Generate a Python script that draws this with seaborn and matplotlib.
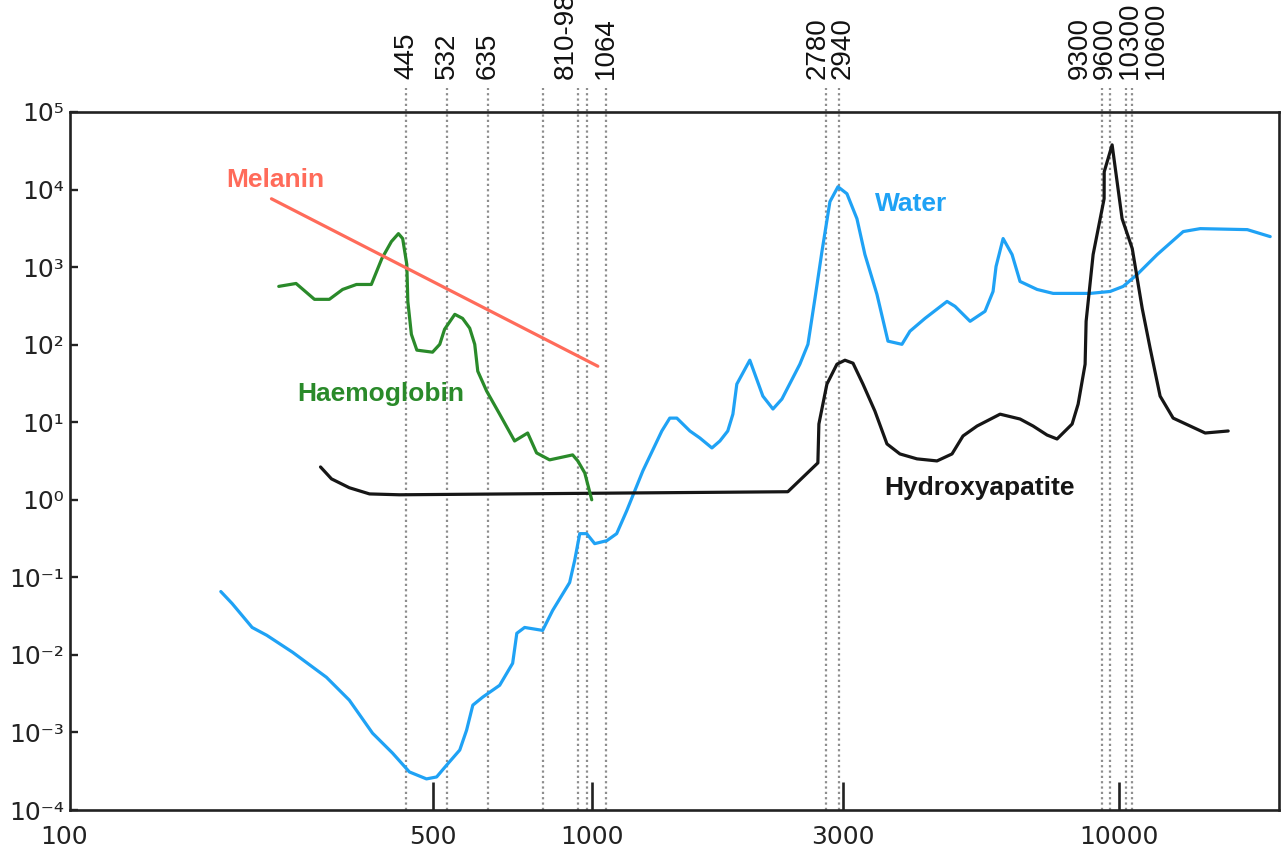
import matplotlib
matplotlib.use("Agg")
import matplotlib.pyplot as plt
import seaborn as sns
import numpy as np
import pandas as pd
from matplotlib.ticker import NullLocator

# absorption spectra (wavelength in nm, relative absorption)
water_nm = [198, 208, 227, 242, 271, 314, 347, 384, 419, 451, 486, 508, 531, 562, 579, 595,
            621, 669, 708, 721, 746, 807, 843, 908, 928, 949, 978, 1013, 1068, 1115, 1165,
            1250, 1358, 1406, 1450, 1535, 1603, 1690, 1750, 1811, 1852, 1884, 1994, 2111,
            2206, 2294, 2481, 2570, 2650, 2732, 2829, 2930, 3047, 3183, 3296, 3474, 3645,
            3874, 4012, 4284, 4717, 4885, 5217, 5568, 5767, 5843, 6026, 6266, 6488, 6990,
            7497, 8810, 9616, 10180, 10820, 11810, 13230, 14250, 17500, 19340]
water_abs = [0.0656, 0.046, 0.0226, 0.0179, 0.0108, 0.00515, 0.00261, 0.00098, 0.000543,
             0.00031, 0.000252, 0.000267, 0.000381, 0.000594, 0.00107, 0.00225, 0.00285,
             0.00406, 0.0078, 0.019, 0.0226, 0.0207, 0.0374, 0.0857, 0.164, 0.366, 0.366,
             0.272, 0.297, 0.366, 0.722, 2.36, 7.71, 11.3, 11.3, 7.71, 6.27, 4.66, 5.73,
             7.71, 12.7, 31.0, 63.1, 21.7, 14.8, 19.9, 56.0, 101, 394, 1585, 6970, 10860,
             8830, 4210, 1452, 445, 111, 101, 149, 218, 361, 312, 200, 269, 485, 1019, 2333,
             1452, 653, 515, 458, 458, 485, 564, 804, 1452, 2871, 3133, 3041, 2472]

haemo_nm = [255, 275, 298, 318, 337, 358, 382, 400, 417, 430, 438, 446, 448, 455, 466, 499,
            515, 526, 550, 569, 587, 600, 608, 632, 669, 714, 756, 786, 832, 920, 941, 970, 1000]
haemo_abs = [564, 615, 384, 384, 515, 597, 597, 1290, 2135, 2700, 2333, 1080, 361, 136, 85,
             80, 101, 158, 246, 218, 163, 101, 45.5, 25.2, 12.7, 5.73, 7.26, 4.02, 3.27,
             3.79, 3.17, 2.22, 1.0]

hydroxy_nm = [306, 321, 347, 379, 432, 2354, 2684, 2696, 2792, 2917, 3021, 3129, 3268, 3443,
              3629, 3840, 4137, 4515, 4821, 5058, 5378, 5947, 6488, 6869, 7300, 7626, 8145,
              8361, 8620, 8658, 8927, 9366, 9370, 9699, 10130, 10590, 11060, 11450, 11960,
              12660, 14560, 16100]
hydroxy_abs = [2.65, 1.86, 1.43, 1.19, 1.16, 1.27, 2.99, 9.5, 31, 56, 63, 57.7, 31, 13.9,
               5.25, 3.9, 3.37, 3.17, 3.9, 6.65, 8.93, 12.7, 11.0, 8.93, 6.84, 6.08, 9.48,
               17.1, 56, 200, 1452, 7620, 16940, 37670, 4217, 1734, 294, 89.9, 21.7, 11.3,
               7.26, 7.71]

melanin_nm = [247, 1027]
melanin_abs = [7600, 52.7]

# laser wavelengths marked with dotted lines
laser_lines = [445, 532, 635, 810, 940, 980, 1064, 2780, 2940, 9300, 9600, 10300, 10600]
laser_labels = ["445", "532", "635", "810-980", "1064", "2780", "2940",
                "9300", "9600", "10300", "10600"]
laser_label_x = [445, 532, 635, np.sqrt(810 * 980), 1064, 2780, 2940, 9300, 9600, 10300, 10600]
label_shift = [0, 0, 0, 0, 0, -6, 3, -16.5, -3.5, 3, 16.5]  # points, to spread crowded labels

x_ticks = [500, 1000, 3000, 10000]
y_exponents = [-4, -3, -2, -1, 0, 1, 2, 3, 4, 5]
sup = str.maketrans("-0123456789", "⁻⁰¹²³⁴⁵⁶⁷⁸⁹")

colors = {"Water": "#1fa2f5", "Melanin": "#ff6b5a", "Haemoglobin": "#2a8a2a",
          "Hydroxyapatite": "#161616"}

df = pd.concat([
    pd.DataFrame({"nm": water_nm, "abs": water_abs, "chromophore": "Water"}),
    pd.DataFrame({"nm": hydroxy_nm, "abs": hydroxy_abs, "chromophore": "Hydroxyapatite"}),
    pd.DataFrame({"nm": haemo_nm, "abs": haemo_abs, "chromophore": "Haemoglobin"}),
    pd.DataFrame({"nm": melanin_nm, "abs": melanin_abs, "chromophore": "Melanin"}),
], ignore_index=True)

sns.set_style("white")
plt.rcParams["font.family"] = ["DejaVu Sans"]

fig = plt.figure(figsize=(12.87, 8.58), dpi=100)
ax = fig.add_axes([0.0544, 0.0559, 0.9394, 0.8136])
ax.set_xscale("log")
ax.set_yscale("log")

for x in laser_lines:
    ax.axvline(x, ymin=0, ymax=1.034, color="#8e8e8e", lw=1.6,
               linestyle=(0, (1, 1.4)), clip_on=False, zorder=1)

sns.lineplot(data=df, x="nm", y="abs", hue="chromophore", palette=colors,
             estimator=None, sort=False, legend=False, lw=2.3, ax=ax, zorder=3)

ax.set_xlim(102.5, 20100)
ax.set_ylim(1e-4, 1e5)
ax.set_xlabel("")
ax.set_ylabel("")

ax.set_xticks(x_ticks)
ax.set_xticklabels([str(t) for t in x_ticks])
ax.xaxis.set_minor_locator(NullLocator())
ax.set_yticks([10.0 ** k for k in y_exponents])
ax.set_yticklabels(["10" + str(k).translate(sup) for k in y_exponents])
ax.yaxis.set_minor_locator(NullLocator())

ax.tick_params(axis="x", bottom=True, direction="in", length=20, width=1.9, pad=11,
               labelsize=18, color="#222222", labelcolor="#222222")
ax.tick_params(axis="y", left=True, direction="in", length=6, width=1.7, pad=4,
               labelsize=18, color="#222222", labelcolor="#222222")
for s in ax.spines.values():
    s.set_linewidth(1.9)
    s.set_color("#222222")

# the "100" label sits at the corner, just left of the frame
ax.annotate("100", xy=(100, 0), xycoords=ax.get_xaxis_transform(),
            xytext=(0, -11), textcoords="offset points",
            ha="center", va="top", fontsize=18, color="#222222", annotation_clip=False)

for lab, x, dx in zip(laser_labels, laser_label_x, label_shift):
    ax.annotate(lab, xy=(x, 1.0), xycoords=ax.get_xaxis_transform(),
                xytext=(dx, 23.5), textcoords="offset points",
                rotation=90, ha="center", va="bottom", fontsize=20,
                family="Liberation Sans", color="#111111", annotation_clip=False)

name_kw = dict(fontsize=19, fontweight="bold", family="Liberation Sans",
               ha="left", va="center")
ax.text(203, 1.34e4, "Melanin", color=colors["Melanin"], **name_kw)
ax.text(3440, 6.6e3, "Water", color=colors["Water"], **name_kw)
ax.text(277, 23, "Haemoglobin", color=colors["Haemoglobin"], **name_kw)
ax.text(3580, 1.43, "Hydroxyapatite", color=colors["Hydroxyapatite"], **name_kw)

fig.savefig("out.png", dpi=100)
plt.close(fig)
